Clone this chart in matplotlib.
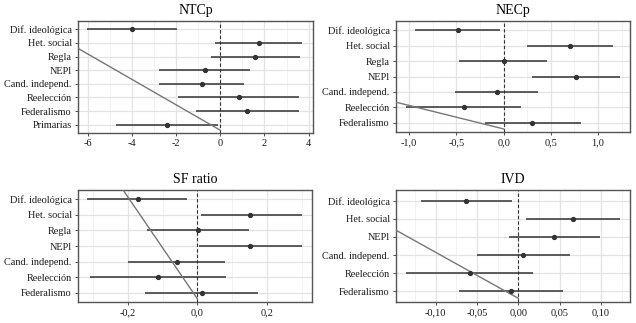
import matplotlib
matplotlib.use("Agg")
import matplotlib.pyplot as plt
from matplotlib.ticker import FixedLocator, FuncFormatter

plt.rcParams['font.family'] = ['Liberation Serif', 'DejaVu Serif']

# --- data (estimate, lower CI, upper CI) ---
ntcp_vars = ['Dif. ideológica', 'Het. social', 'Regla', 'NEPl', 'Cand. independ.',
             'Reelección', 'Federalismo', 'Primarias']
ntcp_est = [-4.00, 1.74, 1.58, -0.70, -0.85, 0.83, 1.23, -2.42]
ntcp_lo = [-6.03, -0.24, -0.42, -2.79, -2.79, -1.92, -1.11, -4.74]
ntcp_hi = [-1.98, 3.71, 3.62, 1.35, 1.08, 3.58, 3.58, -0.12]

necp_vars = ['Dif. ideológica', 'Het. social', 'Regla', 'NEPl', 'Cand. independ.',
             'Reelección', 'Federalismo']
necp_est = [-0.48, 0.70, 0.00, 0.77, -0.07, -0.42, 0.30]
necp_lo = [-0.94, 0.25, -0.47, 0.30, -0.51, -1.03, -0.20]
necp_hi = [-0.04, 1.16, 0.46, 1.23, 0.36, 0.19, 0.82]

sf_vars = ['Dif. ideológica', 'Het. social', 'Regla', 'NEPl', 'Cand. independ.',
           'Reelección', 'Federalismo']
sf_est = [-0.170, 0.152, 0.003, 0.151, -0.059, -0.113, 0.013]
sf_lo = [-0.316, 0.011, -0.145, 0.005, -0.200, -0.309, -0.151]
sf_hi = [-0.029, 0.300, 0.149, 0.300, 0.080, 0.083, 0.175]

ivd_vars = ['Dif. ideológica', 'Het. social', 'NEPl', 'Cand. independ.',
            'Reelección', 'Federalismo']
ivd_est = [-0.0633, 0.0661, 0.0431, 0.0060, -0.0589, -0.0089]
ivd_lo = [-0.1177, 0.0097, -0.0109, -0.0496, -0.1359, -0.0718]
ivd_hi = [-0.0081, 0.1226, 0.0988, 0.0625, 0.0173, 0.0536]

# stray diagonal line in each panel: ends at x=0, y=end_y, with given slope
diag_slope = [-0.93, -1.52, -32.8, -25.5]
diag_end_y = 0.6

panels = [
    ('NTCp', ntcp_vars, ntcp_est, ntcp_lo, ntcp_hi, (-6.45, 4.2), [-6, -4, -2, 0, 2, 4], 0),
    ('NECp', necp_vars, necp_est, necp_lo, necp_hi, (-1.14, 1.34), [-1.0, -0.5, 0.0, 0.5, 1.0], 1),
    ('SF ratio', sf_vars, sf_est, sf_lo, sf_hi, (-0.343, 0.329), [-0.2, 0.0, 0.2], 1),
    ('IVD', ivd_vars, ivd_est, ivd_lo, ivd_hi, (-0.148, 0.135), [-0.10, -0.05, 0.0, 0.05, 0.10], 2),
]

# axes boxes in pixels: left, top, right, bottom
boxes = [(78, 21, 313, 133), (396, 21, 630, 132), (78, 190, 312, 302), (396, 190, 630, 302)]

W, H = 636, 323
fig = plt.figure(figsize=(W / 100, H / 100), dpi=100)

dark = '#333333'
for i, (title, names, est, lo, hi, xlim, ticks, dec) in enumerate(panels):
    l, t, r, b = boxes[i]
    ax = fig.add_axes([l / W, 1 - b / H, (r - l) / W, (b - t) / H])
    n = len(names)
    ypos = list(range(n, 0, -1))

    # grid
    minor = [(ticks[k] + ticks[k + 1]) / 2 for k in range(len(ticks) - 1)]
    step = ticks[1] - ticks[0]
    minor = [ticks[0] - step / 2] + minor + [ticks[-1] + step / 2]
    for v in minor:
        ax.axvline(v, color='#ededed', lw=0.5, zorder=0)
    for v in ticks:
        ax.axvline(v, color='#e3e3e3', lw=0.9, zorder=0)
    for y in ypos:
        ax.axhline(y, color='#e3e3e3', lw=0.9, zorder=0)

    ax.axvline(0, color=dark, lw=0.8, ls=(0, (3, 2)), zorder=2)
    ax.hlines(ypos, lo, hi, color=dark, lw=1.1, zorder=3)
    ax.plot(est, ypos, 'o', color=dark, ms=2.8, zorder=4)

    xs = [xlim[0] - 1, 0]
    ys = [diag_end_y + diag_slope[i] * x for x in xs]
    ax.plot(xs, ys, color='#777777', lw=1.0, zorder=3)

    ax.set_xlim(*xlim)
    ax.set_ylim(0.4, n + 0.6)
    ax.xaxis.set_major_locator(FixedLocator(ticks))
    ax.xaxis.set_major_formatter(FuncFormatter(
        lambda v, p, d=dec: f'{v:.{d}f}'.replace('.', ',').replace('−', '-')))
    ax.set_yticks(ypos)
    ax.set_yticklabels(names)
    ax.tick_params(axis='both', length=2.5, width=0.6, color=dark,
                   labelsize=7.4, labelcolor='#1a1a1a', pad=2)
    for s in ax.spines.values():
        s.set_color('#555555')
        s.set_linewidth(1.0)
    ax.set_title(title, fontsize=10, pad=5)

fig.savefig('out.png', dpi=100)
